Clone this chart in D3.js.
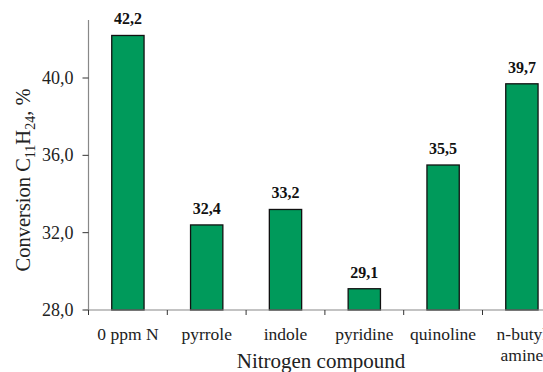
<!DOCTYPE html>
<html><head><meta charset="utf-8">
<script src="https://cdn.jsdelivr.net/npm/d3@7/dist/d3.min.js"></script>
<style>body{margin:0;background:#fff}svg{display:block}text{font-family:"Liberation Serif","Times New Roman",serif}</style>
</head><body><svg id="c" width="543" height="372"></svg>
<script>
const categories = ["0 ppm N", "pyrrole", "indole", "pyridine", "quinoline", "n-butyl amine"];
const values = [42.2, 32.4, 33.2, 29.1, 35.5, 39.7];
const yTicks = [28, 32, 36, 40];

const svg = d3.select("#c");
const x0 = 88.5, bw = 78.8;
const x = d3.scaleBand().domain(categories).range([x0, x0 + bw * categories.length]).paddingInner(0.59).paddingOuter(0.295);
const y = d3.scaleLinear().domain([28, 43]).range([310, 20]);
const fmt = v => v.toFixed(1).replace(".", ",");

// y axis
svg.append("line").attr("x1", x0).attr("x2", x0).attr("y1", y(43)).attr("y2", y(28)).attr("stroke", "#888").attr("stroke-width", 1.2);
yTicks.forEach(t => {
  svg.append("line").attr("x1", x0 - 6).attr("x2", x0).attr("y1", y(t)).attr("y2", y(t)).attr("stroke", "#333");
  svg.append("text").attr("x", x0 - 15).attr("y", y(t) + 6).attr("text-anchor", "end").attr("font-size", 18).attr("fill", "#222").text(fmt(t));
});
// bars
svg.selectAll("rect.b").data(values).enter().append("rect")
  .attr("x", (d, i) => x(categories[i])).attr("width", x.bandwidth())
  .attr("y", d => y(d)).attr("height", d => y(28) - y(d))
  .attr("fill", "#009a5b").attr("stroke", "#111").attr("stroke-width", 1.3);
svg.selectAll("text.v").data(values).enter().append("text")
  .attr("x", (d, i) => x(categories[i]) + x.bandwidth() / 2).attr("y", d => y(d) - 11)
  .attr("text-anchor", "middle").attr("font-size", 16).attr("font-weight", "bold").attr("fill", "#111").text(fmt);
// x axis
svg.append("line").attr("x1", x0 - 4).attr("x2", 543).attr("y1", y(28)).attr("y2", y(28)).attr("stroke", "#888").attr("stroke-width", 1.2);
categories.forEach((c, i) => {
  const tx = x0 + bw * i;
  svg.append("line").attr("x1", tx).attr("x2", tx).attr("y1", y(28)).attr("y2", y(28) + 5).attr("stroke", "#333");
  const cx = x(c) + x.bandwidth() / 2;
  const parts = c === "n-butyl amine" ? ["n-butyl", "amine"] : [c];
  parts.forEach((p, k) => svg.append("text").attr("x", cx).attr("y", 340 + k * 21).attr("text-anchor", "middle").attr("font-size", 17.5).attr("fill", "#222").text(p));
});
svg.append("text").attr("x", 321).attr("y", 368).attr("text-anchor", "middle").attr("font-size", 21).attr("fill", "#222").text("Nitrogen compound");
// y title
const yt = svg.append("text").attr("transform", "translate(30,180) rotate(-90)").attr("text-anchor", "middle").attr("font-size", 20.5).attr("fill", "#222");
yt.append("tspan").text("Conversion C");
yt.append("tspan").attr("font-size", 14).attr("dy", 5).text("11");
yt.append("tspan").attr("dy", -5).text("H");
yt.append("tspan").attr("font-size", 14).attr("dy", 5).text("24");
yt.append("tspan").attr("dy", -5).text(", %");
</script></body></html>
